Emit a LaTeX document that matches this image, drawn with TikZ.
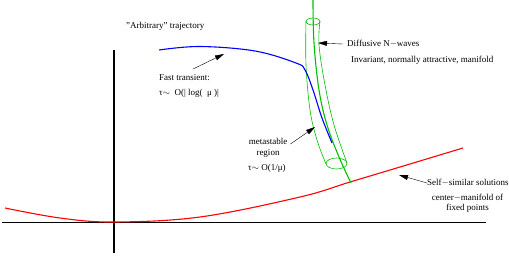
\documentclass[tikz,border=0pt]{standalone}
\usepackage{fontspec}
\setmainfont{Liberation Serif}
\usetikzlibrary{arrows.meta}
\tikzset{
  lbl/.style={inner sep=0pt,anchor=west,font=\fontsize{9}{10}\selectfont},
  lblc/.style={inner sep=0pt,align=center,font=\fontsize{9}{10}\selectfont},
  pointer/.style={thin,-{Triangle[length=9pt,width=5pt]}},
  tube/.style={green!75!black,line width=0.6pt}
}
\begin{document}
\begin{tikzpicture}[x=1pt,y=-1pt]
        \useasboundingbox (0,0) rectangle (509,255);
        %% Axes
        \draw[line width=1.1pt] (2,222.5) -- (486,222.5);
        \draw[line width=1.1pt] (114,50) -- (114,253);
        %% Self-similar solutions
        \draw[red,line width=1.1pt] plot[smooth,tension=0.6] coordinates {(5,208) (60,218) (114,222) (200,217) (300,197) (350,182) (400,167) (463,148)};
        %% Manifold and tube
        \draw[green!75!black,line width=1.1pt] plot[smooth,tension=0.6] coordinates {(313,0) (314,43) (319,90) (327,125) (339,157) (351,183)};
        \draw[tube] plot[smooth,tension=0.6] coordinates {(306,21) (306,65) (310,110) (317,140) (326,164)};
        \draw[tube] plot[smooth,tension=0.6] coordinates {(320,21) (319,45) (325,85) (334,125) (347,163)};
        \draw[tube] (313,21.5) ellipse [x radius=7,y radius=3.5];
        \draw[tube] (336.5,163.5) ellipse [x radius=10.5,y radius=5.5];
        %% Trajectory
        \draw[blue,line width=1.1pt] plot[smooth,tension=0.6] coordinates {(159,50) (200,46.5) (255,51) (296,63) (305,70) (313,90) (322,118) (332,143)};
        %% Labels
        \node[lbl] (arb) at (126,26) {"Arbitrary" trajectory};
        \node[lbl] (fast) at (159,78) {Fast transient:};
        \node[lbl] (fastt) at (159,93) {τ\mbox{$\sim$}\ \ O(| log( \ μ )|};
        \node[lbl] (diff) at (347,44) {Diffusive N$-$waves};
        \node[lbl] (inv) at (351,60) {Invariant, normally attractive, manifold};
        \node[lblc] (meta) at (268,147.5) {metastable\\[1pt]region};
        \node[lbl] (metat) at (248,168) {τ\mbox{$\sim$} O(1/μ)};
        \node[lbl] (self) at (427,183) {Self$-$similar solutions};
        \node[lblc] (cent) at (467.5,203.5) {center$-$manifold of\\[0pt]fixed points};
        %% Pointers
        \coordinate (fastend) at (224,54);
        \coordinate (diffend) at (318,43);
        \coordinate (metaend) at (315,127);
        \coordinate (selfend) at (399,175);
        \draw[pointer] ([shift={(34,-9)}]fast.west) -- (fastend);
        \draw[pointer] ([xshift=-4]diff.west) -- (diffend);
        \draw[pointer] ([shift={(3,-3.5)}]meta.east) -- (metaend);
        \draw[pointer] (self.west) -- (selfend);
\end{tikzpicture}
\end{document}
